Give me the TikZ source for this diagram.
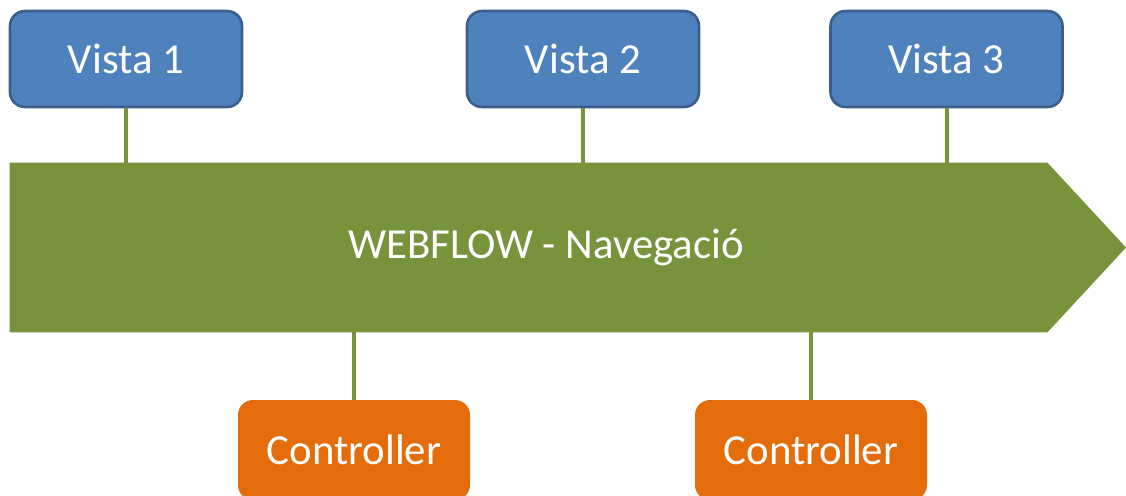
\documentclass[tikz,border=0pt]{standalone}
\usepackage{fontspec}
\setmainfont{Carlito}
\definecolor{viewblue}{HTML}{4F81BD}
\definecolor{viewedge}{HTML}{3A5F8B}
\definecolor{flowgreen}{HTML}{77933C}
\definecolor{ctrlorange}{HTML}{E46C0A}
\begin{document}
\begin{tikzpicture}[x=0.5pt,y=-0.5pt,
  label text/.style={text=white,font=\fontsize{21.4}{25}\selectfont},
  viewbox/.style={label text,rectangle,rounded corners=7.5pt,fill=viewblue,draw=viewedge,
    line width=1.3pt,minimum width=116pt,minimum height=48pt,inner sep=0pt},
  ctrlbox/.style={label text,rectangle,rounded corners=7.5pt,fill=ctrlorange,
    minimum width=116pt,minimum height=50pt,inner sep=0pt},
  link/.style={draw=flowgreen,line width=2pt}]
\useasboundingbox (0,0) rectangle (1126,495);
\clip (0,0) rectangle (1126,495);

% flow band with arrow head
\node (flow) [rectangle,minimum width=518.5pt,minimum height=84.5pt,inner sep=0pt] at (528.5,247.5) {};
\fill[flowgreen] (flow.north west) -- (flow.north east) -- (1126,247.5) -- (flow.south east) -- (flow.south west) -- cycle;
\node[label text] (title) at (546,247) {WEBFLOW - Navegació};

% views
\node[viewbox] (v1) at (126,59) {Vista 1};
\node[viewbox] (v2) at (583,59) {Vista 2};
\node[viewbox] (v3) at (946.5,59) {Vista 3};

% controllers
\node[ctrlbox] (c1) at (354,450) {Controller};
\node[ctrlbox] (c2) at (811,450) {Controller};

% links
\draw[link] (v1.south) -- (v1.south |- flow.north);
\draw[link] (v2.south) -- (v2.south |- flow.north);
\draw[link] (v3.south) -- (v3.south |- flow.north);
\draw[link] (c1.north) -- (c1.north |- flow.south);
\draw[link] (c2.north) -- (c2.north |- flow.south);
\end{tikzpicture}
\end{document}
